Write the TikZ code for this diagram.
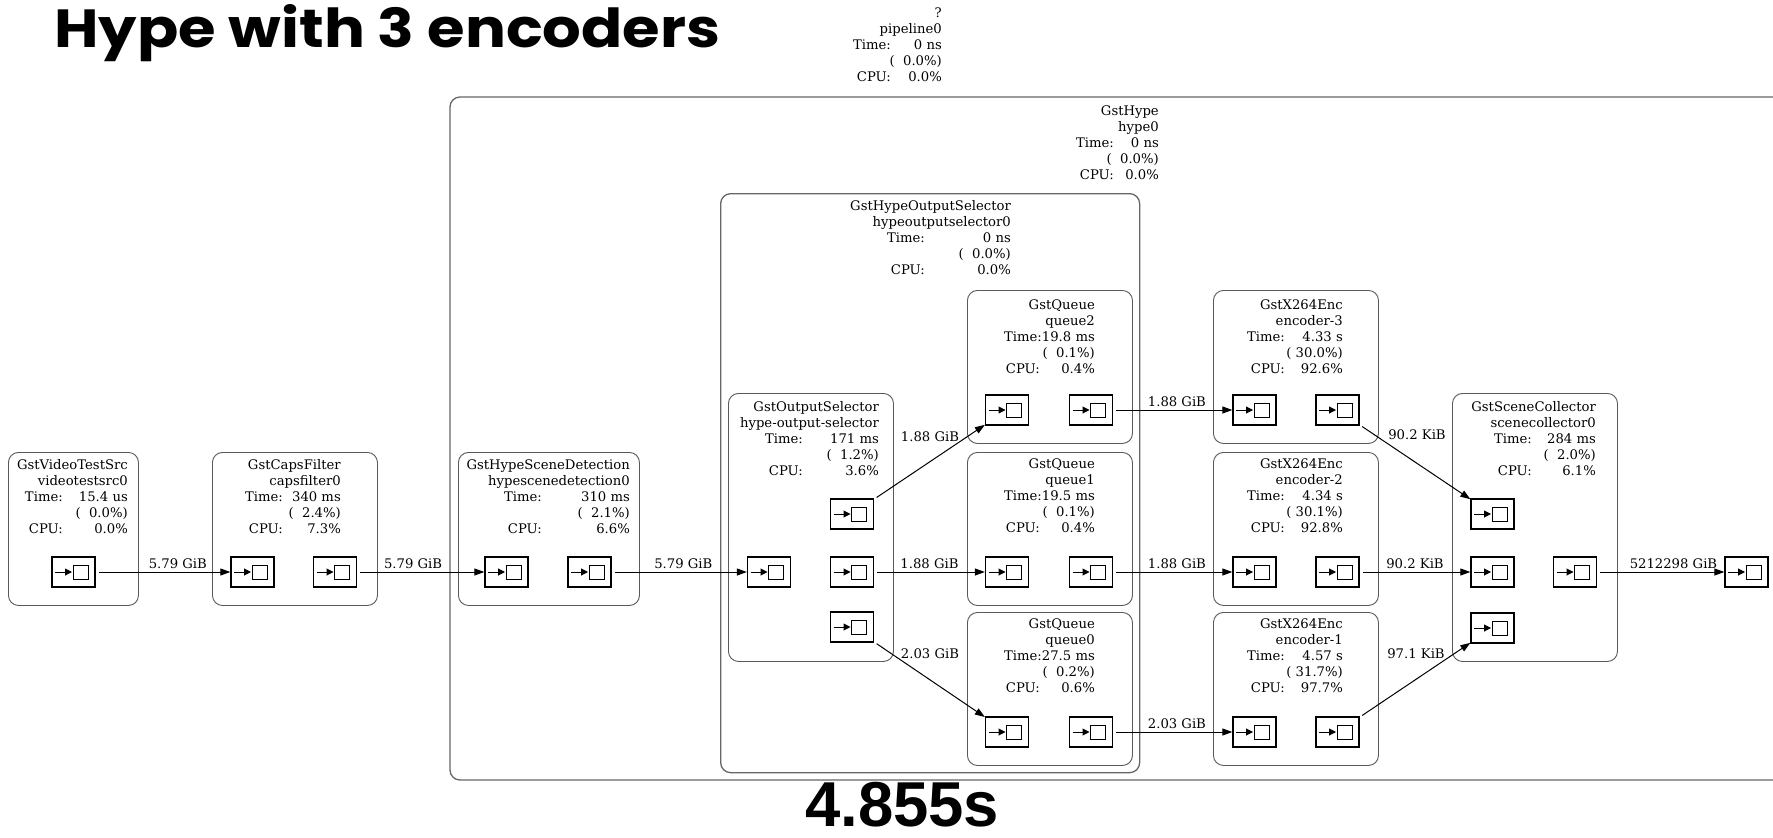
\documentclass[tikz,border=0pt]{standalone}
\usepackage{fontspec}
\setmainfont{DejaVu Serif}
\newfontfamily\titlefont{Poppins}
\newfontfamily\timefont{Liberation Sans}
\usetikzlibrary{arrows.meta}
\newcommand\gfont{\fontsize{13.2}{16}\selectfont}
\newcommand\kv[3]{#1\makebox[#2pt][r]{#3}}
\newcommand\glab[5]{\begin{tabular}[t]{@{}r@{}}#1\\#2\\#3\\#4\\#5\end{tabular}}
\tikzset{
  elem/.style={draw=black!65, line width=0.9pt, rounded corners=10pt, inner sep=0pt, anchor=north west},
  clus/.style={draw=black!60, line width=1.3pt, rounded corners=10pt},
  pad/.style={draw=black, line width=1.3pt, minimum width=43pt, minimum height=30pt, inner sep=0pt,
    path picture={
      \draw[line width=1pt,-{Triangle[length=7pt,width=7pt]}] ([xshift=3pt]path picture bounding box.west) -- ++(17pt,0pt);
      \draw[line width=1pt] ([xshift=21pt,yshift=-7pt]path picture bounding box.west) rectangle ++(15pt,14pt);
    }},
  edge/.style={draw=black, line width=1pt, -{Triangle[length=10pt,width=7pt]}, shorten <=3pt},
  elab/.style={font=\gfont, inner sep=0pt, anchor=base, yshift=4pt},
  dlab/.style={font=\gfont, inner sep=0pt},
  glabel/.style={font=\gfont, inner sep=0pt, anchor=base east},
}
\begin{document}
\begin{tikzpicture}[x=1pt,y=-1pt]
\path[fill=white] (0,0) rectangle (1773,838);
\useasboundingbox (0,0) rectangle (1773,838);

% titles
\node[anchor=base west, inner sep=0pt] (title) at (54,47) {\resizebox{666pt}{43pt}{\titlefont\bfseries Hype with 3 encoders}};
\node[anchor=base west, inner sep=0pt] (total) at (805,826) {\resizebox{194pt}{!}{\timefont\bfseries 4.855s}};

% pipeline label
\node[glabel] (pipe) at (942,17) {\glab{?}{pipeline0}{\kv{Time:}{51}{0 ns}}{(~~0.0\%)}{\kv{CPU:}{51}{0.0\%}}};

% clusters
\draw[clus] (1773,97) -- (450,97) -- (450,780) -- (1773,780);
\node[glabel] (hypelab) at (1159,115) {\glab{GstHype}{hype0}{\kv{Time:}{45}{0 ns}}{(~~0.0\%)}{\kv{CPU:}{45}{0.0\%}}};
\node[clus, anchor=north west, minimum width=419pt, minimum height=579pt, inner sep=0pt] (hos) at (720,193) {};
\node[glabel] (hoslab) at (1011,210) {\glab{GstHypeOutputSelector}{hypeoutputselector0}{\kv{Time:}{86}{0 ns}}{(~~0.0\%)}{\kv{CPU:}{86}{0.0\%}}};

% element boxes
\node[elem, minimum width=130pt, minimum height=153pt] (vts) at (8,452) {};
\node[elem, minimum width=165pt, minimum height=153pt] (cf) at (212,452) {};
\node[elem, minimum width=181pt, minimum height=153pt] (hsd) at (458,452) {};
\node[elem, minimum width=165pt, minimum height=268pt] (os) at (728,393) {};
\node[elem, minimum width=165pt, minimum height=153pt] (q2) at (967,290) {};
\node[elem, minimum width=165pt, minimum height=153pt] (q1) at (967,452) {};
\node[elem, minimum width=165pt, minimum height=153pt] (q0) at (967,612) {};
\node[elem, minimum width=165pt, minimum height=153pt] (e3) at (1213,290) {};
\node[elem, minimum width=165pt, minimum height=153pt] (e2) at (1213,452) {};
\node[elem, minimum width=165pt, minimum height=153pt] (e1) at (1213,612) {};
\node[elem, minimum width=165pt, minimum height=268pt] (sc) at (1452,393) {};

% element labels
\node[glabel] (vtslab) at (128,469) {\glab{GstVideoTestSrc}{videotestsrc0}{\kv{Time:}{65}{15.4 us}}{(~~0.0\%)}{\kv{CPU:}{65}{0.0\%}}};
\node[glabel] (cflab) at (341,469) {\glab{GstCapsFilter}{capsfilter0}{\kv{Time:}{58}{340 ms}}{(~~2.4\%)}{\kv{CPU:}{58}{7.3\%}}};
\node[glabel] (hsdlab) at (630,469) {\glab{GstHypeSceneDetection}{hypescenedetection0}{\kv{Time:}{88}{310 ms}}{(~~2.1\%)}{\kv{CPU:}{88}{6.6\%}}};
\node[glabel] (oslab) at (879,411) {\glab{GstOutputSelector}{hype-output-selector}{\kv{Time:}{76}{171 ms}}{(~~1.2\%)}{\kv{CPU:}{76}{3.6\%}}};
\node[glabel] (q2lab) at (1095,309) {\glab{GstQueue}{queue2}{Time:19.8 ms}{(~~0.1\%)}{\kv{CPU:}{55}{0.4\%}}};
\node[glabel] (q1lab) at (1095,468) {\glab{GstQueue}{queue1}{Time:19.5 ms}{(~~0.1\%)}{\kv{CPU:}{55}{0.4\%}}};
\node[glabel] (q0lab) at (1095,628) {\glab{GstQueue}{queue0}{Time:27.5 ms}{(~~0.2\%)}{\kv{CPU:}{55}{0.6\%}}};
\node[glabel] (e3lab) at (1343,309) {\glab{GstX264Enc}{encoder-3}{\kv{Time:}{58}{4.33 s}}{(~30.0\%)}{\kv{CPU:}{58}{92.6\%}}};
\node[glabel] (e2lab) at (1343,468) {\glab{GstX264Enc}{encoder-2}{\kv{Time:}{58}{4.34 s}}{(~30.1\%)}{\kv{CPU:}{58}{92.8\%}}};
\node[glabel] (e1lab) at (1343,628) {\glab{GstX264Enc}{encoder-1}{\kv{Time:}{58}{4.57 s}}{(~31.7\%)}{\kv{CPU:}{58}{97.7\%}}};
\node[glabel] (sclab) at (1596,411) {\glab{GstSceneCollector}{scenecollector0}{\kv{Time:}{64}{284 ms}}{(~~2.0\%)}{\kv{CPU:}{64}{6.1\%}}};

% pads
\node[pad] (vts-src) at (73.5,572) {};
\node[pad] (cf-sink) at (252.5,572) {};
\node[pad] (cf-src) at (335,572) {};
\node[pad] (hsd-sink) at (506.5,572) {};
\node[pad] (hsd-src) at (589.5,572) {};
\node[pad] (os-sink) at (769,572) {};
\node[pad] (os-src0) at (852,514) {};
\node[pad] (os-src1) at (852,572) {};
\node[pad] (os-src2) at (852,627) {};
\node[pad] (q2-sink) at (1007,410) {};
\node[pad] (q2-src) at (1091,410) {};
\node[pad] (q1-sink) at (1007,572) {};
\node[pad] (q1-src) at (1091,572) {};
\node[pad] (q0-sink) at (1007,732) {};
\node[pad] (q0-src) at (1091,732) {};
\node[pad] (e3-sink) at (1254.5,410) {};
\node[pad] (e3-src) at (1337.5,410) {};
\node[pad] (e2-sink) at (1254.5,572) {};
\node[pad] (e2-src) at (1337.5,572) {};
\node[pad] (e1-sink) at (1254.5,732) {};
\node[pad] (e1-src) at (1337.5,732) {};
\node[pad] (sc-sink0) at (1492.5,514) {};
\node[pad] (sc-sink1) at (1492.5,572) {};
\node[pad] (sc-sink2) at (1492.5,628) {};
\node[pad] (sc-src) at (1575,572) {};
\node[pad] (fake-sink) at (1746.5,572) {};

% edges
\draw[edge] (vts-src) -- node[elab, pos=0.61] {5.79 GiB} (cf-sink);
\draw[edge] (cf-src) -- node[elab, pos=0.44] {5.79 GiB} (hsd-sink);
\draw[edge] (hsd-src) -- node[elab, pos=0.53] {5.79 GiB} (os-sink);
\draw[edge] (os-src0) -- (q2-sink);
\draw[edge] (os-src1) -- node[elab, pos=0.5] {1.88 GiB} (q1-sink);
\draw[edge] (os-src2) -- (q0-sink);
\draw[edge] (q2-src) -- node[elab, pos=0.535] {1.88 GiB} (e3-sink);
\draw[edge] (q1-src) -- node[elab, pos=0.535] {1.88 GiB} (e2-sink);
\draw[edge] (q0-src) -- node[elab, pos=0.535] {2.03 GiB} (e1-sink);
\draw[edge] (e3-src) -- (sc-sink0);
\draw[edge] (e2-src) -- node[elab, pos=0.5] {90.2 KiB} (sc-sink1);
\draw[edge] (e1-src) -- (sc-sink2);
\draw[edge] (sc-src) -- node[elab, pos=0.6] {5212298 GiB} (fake-sink);

% diagonal edge labels
\node[dlab] (l-os-q2) at (930,437) {1.88 GiB};
\node[dlab] (l-os-q0) at (930,654) {2.03 GiB};
\node[dlab] (l-e3-sc) at (1417,435) {90.2 KiB};
\node[dlab] (l-e1-sc) at (1416,654) {97.1 KiB};
\end{tikzpicture}
\end{document}
